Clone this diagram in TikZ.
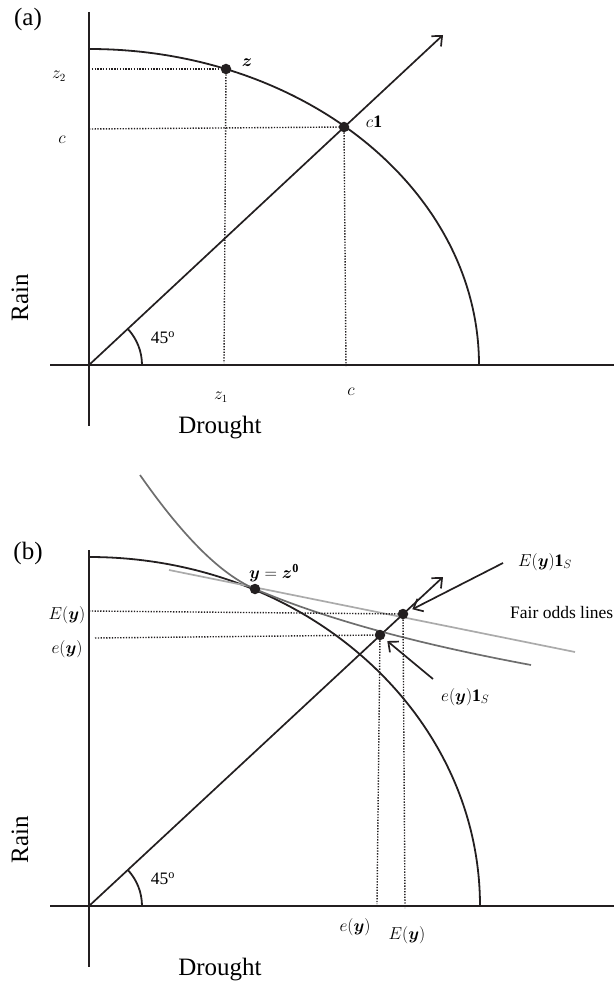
\documentclass[tikz,border=0pt]{standalone}
\usepackage{amsmath}
\usepackage{fontspec}
\setmainfont{Liberation Serif}
\usetikzlibrary{arrows.meta}
\definecolor{ptInk}{HTML}{231F20}
\definecolor{ptCurve}{HTML}{6E6E6E}
\definecolor{ptFair}{HTML}{ABABAB}

\begin{document}
\begin{tikzpicture}[x=1pt, y=1pt,
    axis/.style={draw=ptInk, line width=2pt},
    curve/.style={draw=ptInk, line width=1.8pt},
    guide/.style={draw=ptInk, line width=1.4pt, dash pattern=on 1.3pt off 1.5pt},
    ray/.style={draw=ptInk, line width=1.7pt,
                -{Straight Barb[length=8pt, width=14pt, line width=1.7pt]}},
    spot/.style={circle, fill=ptInk, inner sep=0pt, minimum size=10.5pt},
    big/.style={font=\fontsize{25}{30}\selectfont, inner sep=0pt},
    lbl/.style={font=\fontsize{16}{19}\selectfont, inner sep=0pt},
    lblb/.style={font=\fontsize{17.5}{21}\selectfont, inner sep=0pt}]

  \useasboundingbox (0,0) rectangle (614,-984);

  % panel (a)
  \coordinate (Oa) at (89,-365);
  \coordinate (yTopA) at (89,-12);
  \coordinate (yBotA) at (89,-426);
  \coordinate (xLeftA) at (50,-365);
  \coordinate (xRightA) at (614,-365);
  \coordinate (tipA) at (443,-35);
  \draw[axis] (yTopA) -- (yBotA);
  \draw[axis] (xLeftA) -- (xRightA);
  \draw[curve] (89,-49) arc[start angle=90, end angle=0, x radius=390, y radius=316];
  \draw[ray] (Oa) -- (tipA);
  \draw[curve] (142,-365) arc[start angle=0, end angle=43, radius=53];

  \node[spot] (z) at (226,-69) {};
  \node[spot] (c1) at (344,-127) {};
  \coordinate (z2A) at (89,-69);
  \coordinate (z1A) at (224,-363);
  \coordinate (cyA) at (89,-129);
  \coordinate (cxA) at (346,-367);
  \draw[guide] (z2A) -- (z);
  \draw[guide] (z) -- (z1A);
  \draw[guide] (cyA) -- (c1);
  \draw[guide] (c1) -- (cxA);

  \node[big] (tagA) at (28,-19) {(a)};
  \node[lbl] (labz2) at (59,-76) {$z_2$};
  \node[lbl] (labcy) at (62,-140) {$c$};
  \node[lbl] (labz1) at (221,-397) {$z_1$};
  \node[lbl] (labcx) at (351,-392) {$c$};
  \node[lblb] (labz) at (247,-63) {$\boldsymbol{z}$};
  \node[lblb] (labc1) at (374,-122) {$c\mathbf{1}$};
  \node[lblb] (angA) at (163,-338) {45\textsuperscript{o}};
  \node[big, rotate=90] (rainA) at (20,-298) {Rain};
  \node[big] (droughtA) at (220,-428) {Drought};

  % panel (b)
  \coordinate (Ob) at (89,-906);
  \coordinate (yTopB) at (89,-550);
  \coordinate (yBotB) at (89,-967);
  \coordinate (xLeftB) at (50,-906);
  \coordinate (xRightB) at (614,-906);
  \coordinate (tipB) at (443,-577);
  \draw[axis] (yTopB) -- (yBotB);
  \draw[axis] (xLeftB) -- (xRightB);
  \draw[curve] (89,-557) arc[start angle=90, end angle=0, x radius=391, y radius=349];
  \draw[ray] (Ob) -- (tipB);
  \draw[curve] (142,-906) arc[start angle=0, end angle=43, radius=53];

  \coordinate (fairL) at (169,-570);
  \coordinate (fairR) at (575,-652);
  \draw[draw=ptFair, line width=1.7pt] (fairL) -- (fairR);
  \draw[draw=ptCurve, line width=1.7pt] (140,-475) .. controls (175,-525) and (215,-572) .. (255,-589)
        .. controls (340,-625) and (440,-648) .. (531,-665);

  \node[spot] (y0) at (255,-589) {};
  \node[spot] (E1) at (403,-614) {};
  \node[spot] (e1) at (380,-635) {};
  \coordinate (EyB) at (89,-611);
  \coordinate (eyB) at (95,-638);
  \coordinate (ExB) at (405,-908);
  \coordinate (exB) at (377,-904);
  \draw[guide] (EyB) -- (E1);
  \draw[guide] (eyB) -- (e1);
  \draw[guide] (E1) -- (ExB);
  \draw[guide] (e1) -- (exB);

  \coordinate (fromE) at (503,-563);
  \coordinate (frome) at (433,-679);
  \draw[ray, shorten >=5pt] (fromE) -- (E1);
  \draw[ray, shorten >=4pt] (frome) -- (e1);

  \node[big] (tagB) at (28,-553) {(b)};
  \node[lblb] (laby0) at (274,-573) {$\boldsymbol{y}=\boldsymbol{z}^{\mathbf{0}}$};
  \node[lblb] (labE1) at (545,-562) {$E(\boldsymbol{y})\mathbf{1}_S$};
  \node[lblb, anchor=west] (labe1) at (441,-697) {$e(\boldsymbol{y})\mathbf{1}_S$};
  \node[lblb, anchor=west] (fair) at (510,-613) {Fair odds lines};
  \node[lblb] (labEy) at (67,-615) {$E(\boldsymbol{y})$};
  \node[lblb] (labey) at (67,-649) {$e(\boldsymbol{y})$};
  \node[lblb] (labex) at (355,-927) {$e(\boldsymbol{y})$};
  \node[lblb] (labEx) at (407,-935) {$E(\boldsymbol{y})$};
  \node[lblb] (angB) at (163,-879) {45\textsuperscript{o}};
  \node[big, rotate=90] (rainB) at (20,-840) {Rain};
  \node[big] (droughtB) at (220,-970) {Drought};
\end{tikzpicture}
\end{document}
